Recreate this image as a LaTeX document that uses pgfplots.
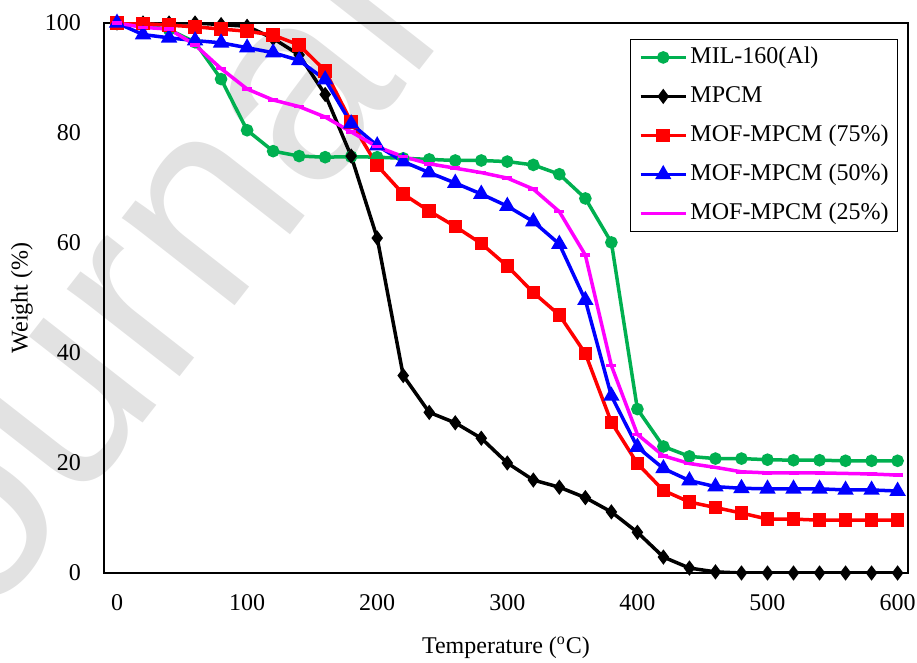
\documentclass[border=0pt]{standalone}
\usepackage{fontspec}
\setmainfont{Liberation Serif}
\newfontfamily\wmfont{Liberation Sans}
\usepackage{pgfplots}
\pgfplotsset{compat=1.18}
\usepackage{pgfplotstable}
\usetikzlibrary{plotmarks}

\definecolor{xlgreen}{RGB}{0,176,80}
\definecolor{xlmagenta}{RGB}{255,0,255}
\definecolor{wmgray}{RGB}{226,226,226}

% T (degC) vs weight (%)
\pgfplotstableread{
T    mil   mpcm  m75   m50   m25
0    100   100   100   100   100
20   99.6  100   99.9  97.9  99.2
40   98.8  100   99.6  97.3  98.9
60   96.5  100   99.3  96.8  96.0
80   89.8  99.7  98.9  96.4  91.7
100  80.5  99.4  98.5  95.5  88.0
120  76.7  97.2  97.8  94.6  86.0
140  75.8  94.2  96.0  93.2  84.8
160  75.6  87.0  91.3  89.7  82.9
180  75.7  75.8  82.0  81.7  80.2
200  75.6  60.9  74.1  77.7  77.5
220  75.4  35.9  68.9  74.8  75.7
240  75.2  29.2  65.8  72.8  74.4
260  75.0  27.3  63.0  70.9  73.6
280  75.0  24.5  59.9  68.9  72.8
300  74.8  20.0  55.8  66.7  71.8
320  74.2  16.9  51.0  63.9  69.8
340  72.5  15.6  46.9  59.8  65.7
360  68.1  13.7  39.9  49.6  57.8
380  60.1  11.1  27.4  32.2  37.7
400  29.8  7.4   19.9  22.9  25.2
420  23.0  2.9   15.0  19.0  21.3
440  21.2  0.9   12.9  16.8  19.9
460  20.8  0.2   11.9  15.7  19.2
480  20.8  0     10.9  15.4  18.4
500  20.6  0     9.8   15.3  18.2
520  20.5  0     9.8   15.3  18.2
540  20.5  0     9.6   15.3  18.2
560  20.4  0     9.6   15.1  18.1
580  20.4  0     9.6   15.1  18.0
600  20.4  0     9.6   14.9  17.8
}\tga

\begin{document}
\begin{tikzpicture}
\pgfplotsset{set layers}
\begin{axis}[
  name=ax,
  scale only axis,
  width=402pt, height=275pt,
  xmin=-10, xmax=608, ymin=0, ymax=100,
  xtick={0,100,...,600}, ytick={0,20,...,100},
  major tick length=0pt,
  axis line style={black, line width=0.75pt},
  /pgf/number format/assume math mode=true,
  tick label style={font=\fontsize{12}{14}\selectfont},
  xticklabel shift=7pt, yticklabel shift=8pt,
  label style={font=\fontsize{12}{14}\selectfont},
  xlabel={Temperature (\textsuperscript{o}C)},
  ylabel={Weight (\%)},
  xlabel style={at={(axis description cs:0.5,-0.136)}, anchor=center},
  ylabel style={at={(axis description cs:-0.102,0.5)}, anchor=center},
  legend cell align=left,
  legend style={at={(rel axis cs:0.9876,0.971)}, anchor=north east,
    draw=black, line width=0.5pt, font=\fontsize{12}{14}\selectfont,
    inner xsep=4.5pt, inner ysep=3pt, row sep=7.5pt, column sep=1.5pt,
    nodes={inner sep=0pt, text height=9pt, text depth=3pt}},
  legend image code/.code={\draw[mark repeat=2,mark phase=2,#1]
    plot coordinates {(0pt,0pt) (11.25pt,0pt) (22.5pt,0pt)};},
  every axis plot/.append style={line width=1.75pt},
]
\begin{pgfonlayer}{axis background}
\node[rotate=52, anchor=base east, text=wmgray, font=\wmfont\fontsize{135}{135}\selectfont]
  at (axis description cs:0.43,0.985) {Journal};
\end{pgfonlayer}
\addplot[color=xlgreen, mark=*, mark size=2.25pt] table[x=T,y=mil]{\tga};
\addlegendentry{MIL-160(Al)}
\addplot[color=black, mark=diamond*, mark size=2.4pt] table[x=T,y=mpcm]{\tga};
\addlegendentry{MPCM}
\addplot[color=red, mark=square*, mark size=2.5pt] table[x=T,y=m75]{\tga};
\addlegendentry{MOF-MPCM (75\%)}
\addplot[color=blue, mark=triangle*, mark size=3pt] table[x=T,y=m50]{\tga};
\addlegendentry{MOF-MPCM (50\%)}
\addplot[color=xlmagenta, mark=-, mark size=2.5pt] table[x=T,y=m25]{\tga};
\addlegendentry{MOF-MPCM (25\%)}
\end{axis}
\pgfresetboundingbox
\path[use as bounding box] ([shift={(-52pt,-45pt)}]ax.south west) rectangle ([shift={(4.5pt,11.5pt)}]ax.north east);
\end{tikzpicture}
\end{document}
